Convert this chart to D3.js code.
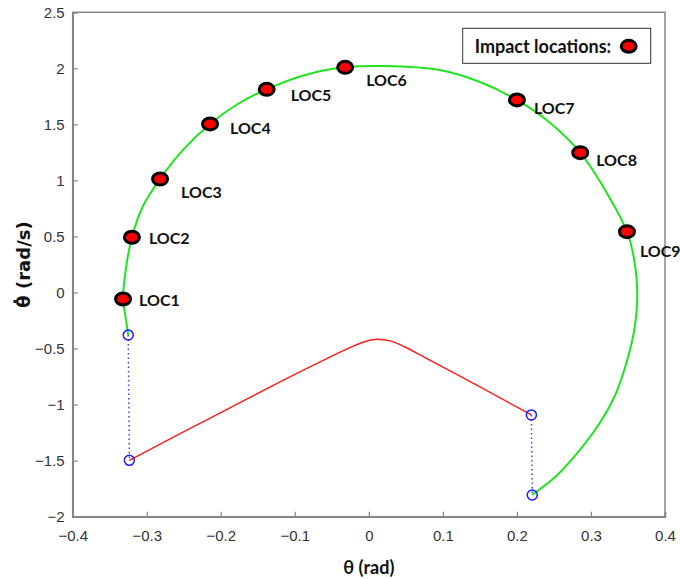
<!DOCTYPE html>
<html>
<head>
<meta charset="utf-8">
<script src="https://cdn.jsdelivr.net/npm/d3@7"></script>
<style>
  body { margin: 0; background: #fff; }
  .tick text { font-family: "Liberation Sans", Arial, sans-serif; font-size: 15px; fill: #333; }
  .lbl { font-family: Lato, "Open Sans", sans-serif; font-weight: bold; fill: #111; }
</style>
</head>
<body>
<div id="chart"></div>
<script>
/* global d3 */

// impact locations (theta, theta-dot)
var locNames = ["LOC1", "LOC2", "LOC3", "LOC4", "LOC5", "LOC6", "LOC7", "LOC8", "LOC9"];
var locTheta = [-0.332, -0.320, -0.282, -0.2145, -0.138, -0.032, 0.200, 0.2855, 0.3486];
var locRate = [-0.058, 0.493, 1.013, 1.504, 1.813, 2.009, 1.718, 1.2475, 0.543];

// green trajectory (free flight)
var greenTheta = [-0.325, -0.329, -0.332, -0.328, -0.320, -0.305, -0.282, -0.251, -0.2145, -0.177, -0.138, -0.086, -0.032,
    0.022, 0.096, 0.150, 0.200, 0.245, 0.2855, 0.319, 0.3486, 0.3585, 0.3626, 0.3585, 0.349, 0.3328, 0.310, 0.2828,
    0.2531, 0.2207];
var greenRate = [-0.379, -0.200, -0.058, 0.219, 0.493, 0.772, 1.013, 1.272, 1.504, 1.682, 1.813, 1.941, 2.009,
    2.021, 1.985, 1.878, 1.718, 1.512, 1.2475, 0.915, 0.543, 0.290, -0.004, -0.334, -0.602, -0.914, -1.182, -1.422,
    -1.637, -1.806];

// red trajectory
var redTheta = [-0.3235, -0.255, -0.187, -0.106, -0.052, -0.025, -0.005, 0.011, 0.029, 0.049, 0.069, 0.137, 0.2195];
var redRate = [-1.497, -1.258, -1.027, -0.751, -0.575, -0.490, -0.437, -0.417, -0.432, -0.486, -0.557, -0.795, -1.092];

// jump points (blue circles) and their dotted links
var jumpTheta = [-0.325, -0.3235, 0.2195, 0.2207];
var jumpRate = [-0.379, -1.497, -1.092, -1.806];

var xTicks = [-0.4, -0.3, -0.2, -0.1, 0, 0.1, 0.2, 0.3, 0.4];
var yTicks = [-2, -1.5, -1, -0.5, 0, 0.5, 1, 1.5, 2, 2.5];

var W = 680, H = 579;
var margin = { top: 12.3, right: 15, bottom: 62.3, left: 72.7 };
var w = W - margin.left - margin.right,
    h = H - margin.top - margin.bottom;

var svg = d3.select("#chart").append("svg")
    .attr("width", W)
    .attr("height", H);

var g = svg.append("g").attr("transform", "translate(" + margin.left + "," + margin.top + ")");

var x = d3.scaleLinear().domain([-0.4, 0.4]).range([0, w]);
var y = d3.scaleLinear().domain([-2, 2.5]).range([h, 0]);

var fmt = function(d) { return d3.format("")(d).replace("-", "\u2212"); };

// box
g.append("rect")
    .attr("width", w).attr("height", h)
    .attr("fill", "none")
    .attr("stroke", "#858585")
    .attr("stroke-width", 1.5);

var xAxis = g.append("g")
    .attr("transform", "translate(0," + h + ")")
    .call(d3.axisBottom(x).tickValues(xTicks).tickSize(-5).tickPadding(12).tickFormat(fmt));

var yAxis = g.append("g")
    .call(d3.axisLeft(y).tickValues(yTicks).tickSize(-5).tickPadding(8).tickFormat(fmt));

[xAxis, yAxis].forEach(function(a) {
    a.select(".domain").attr("stroke", "#858585").attr("stroke-width", 1.5);
    a.selectAll(".tick line").attr("stroke", "#858585").attr("stroke-width", 1.2);
    a.selectAll(".tick text").attr("dy", "0.35em");
});
xAxis.selectAll(".tick text").attr("y", 19).attr("dy", "0.35em");

var line = d3.line()
    .x(function(d) { return x(d[0]); })
    .y(function(d) { return y(d[1]); });

var greenData = d3.zip(greenTheta, greenRate);
var redData = d3.zip(redTheta, redRate);
var jumps = d3.zip(jumpTheta, jumpRate);

g.append("path")
    .datum(greenData)
    .attr("fill", "none")
    .attr("stroke", "#1ee61e")
    .attr("stroke-width", 2)
    .attr("d", line.curve(d3.curveCatmullRom.alpha(0.5)));

g.append("path")
    .datum(redData)
    .attr("fill", "none")
    .attr("stroke", "#ff1a1a")
    .attr("stroke-width", 1.4)
    .attr("d", line.curve(d3.curveMonotoneX));

// dotted jumps
[[jumps[0], jumps[1]], [jumps[2], jumps[3]]].forEach(function(p) {
    g.append("path")
        .datum(p)
        .attr("fill", "none")
        .attr("stroke", "#4040ff")
        .attr("stroke-width", 1.5)
        .attr("stroke-dasharray", "1.5,3")
        .attr("d", line.curve(d3.curveLinear));
});

g.selectAll(".jump")
    .data(jumps)
    .enter().append("circle")
    .attr("class", "jump")
    .attr("cx", function(d) { return x(d[0]); })
    .attr("cy", function(d) { return y(d[1]); })
    .attr("r", 5)
    .attr("fill", "none")
    .attr("stroke", "#1a1aff")
    .attr("stroke-width", 1.5);

// impact markers
var locs = locNames.map(function(n, i) { return { name: n, t: locTheta[i], r: locRate[i] }; });
// label nudges (pixels) to sit like the original
var nudge = [[16, 1], [17, 1], [21, 13], [20, 4], [24, 6], [21, 13], [17, 8], [16, 8], [13, 20]];

g.selectAll(".loc")
    .data(locs)
    .enter().append("ellipse")
    .attr("class", "loc")
    .attr("cx", function(d) { return x(d.t); })
    .attr("cy", function(d) { return y(d.r); })
    .attr("rx", 7.5)
    .attr("ry", 6)
    .attr("fill", "#ff0000")
    .attr("stroke", "#000")
    .attr("stroke-width", 3);

g.selectAll(".locText")
    .data(locs)
    .enter().append("text")
    .attr("class", "lbl locText")
    .attr("x", function(d, i) { return x(d.t) + nudge[i][0]; })
    .attr("y", function(d, i) { return y(d.r) + nudge[i][1]; })
    .attr("dy", "0.35em")
    .style("font-size", "16px")
    .text(function(d) { return d.name; });

// legend
var leg = svg.append("g").attr("transform", "translate(462.7,28.3)");
leg.append("rect")
    .attr("width", 188).attr("height", 35)
    .attr("fill", "#fff")
    .attr("stroke", "#333")
    .attr("stroke-width", 1);
leg.append("text")
    .attr("class", "lbl")
    .attr("x", 12).attr("y", 18)
    .attr("dy", "0.35em")
    .style("font-size", "18px")
    .text("Impact locations:");
leg.append("ellipse")
    .attr("cx", 166).attr("cy", 18)
    .attr("rx", 7.5).attr("ry", 6)
    .attr("fill", "#ff0000")
    .attr("stroke", "#000")
    .attr("stroke-width", 3);

// axis titles
svg.append("text")
    .attr("class", "lbl")
    .attr("x", margin.left + w / 2)
    .attr("y", 568)
    .attr("dy", "0.35em")
    .attr("text-anchor", "middle")
    .style("font-size", "18px")
    .text("\u03b8 (rad)");

svg.append("text")
    .attr("class", "lbl")
    .attr("transform", "translate(24," + (margin.top + h / 2) + ") rotate(-90)")
    .attr("text-anchor", "middle")
    .attr("dy", "0.35em")
    .style("font-size", "18px")
    .style("font-family", "'DejaVu Sans', Lato, sans-serif")
    .text("\u03b8\u0307 (rad/s)");
</script>
</body>
</html>
